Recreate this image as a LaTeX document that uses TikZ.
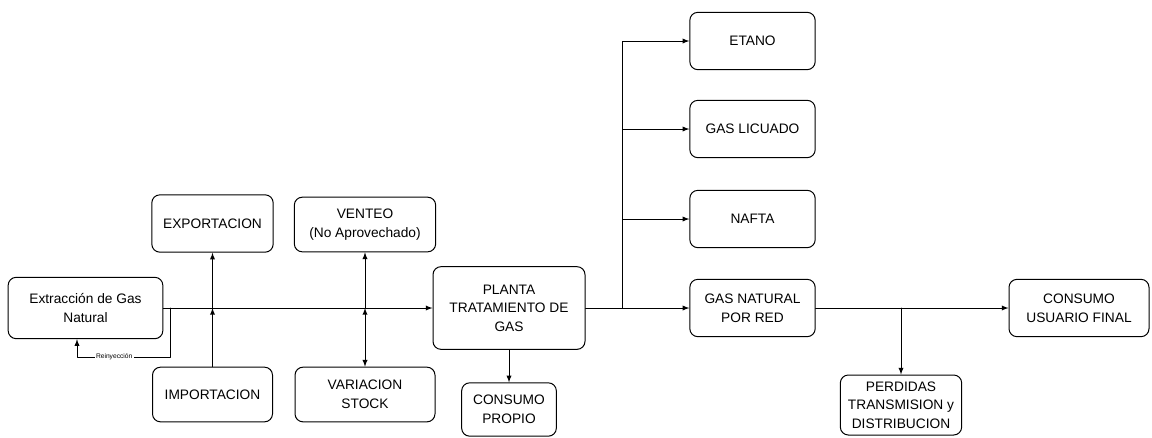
\documentclass[tikz,border=0pt]{standalone}
\usepackage{fontspec}
\setmainfont{Liberation Sans}
\usepackage{tikz}
\usetikzlibrary{arrows}

\begin{document}
\begin{tikzpicture}
    [line cap=round,line join=round,x=0.75pt,y=-0.75pt,line width=0.75pt,
     caja/.style={draw,rounded corners=6pt,align=center,inner sep=0pt,
                  font=\fontsize{10.3}{14}\selectfont},
     flecha/.style={-latex}]
\useasboundingbox (0,0) rectangle (1152,437);
%main layer
%boxes of the balance
\node[caja,minimum width=116pt,minimum height=46pt] (ext) at (85.5,308) {Extracción de Gas\\Natural};
\node[caja,minimum width=91pt,minimum height=43pt] (expo) at (212.5,223.5) {EXPORTACION};
\node[caja,minimum width=90pt,minimum height=41pt] (impo) at (212.5,394.5) {IMPORTACION};
\node[caja,minimum width=106pt,minimum height=41pt] (vent) at (365,224.5) {VENTEO\\(No Aprovechado)};
\node[caja,minimum width=105pt,minimum height=41pt] (vari) at (365,394.5) {VARIACION\\STOCK};
\node[caja,minimum width=114pt,minimum height=62pt] (plant) at (509,308) {PLANTA\\TRATAMIENTO DE\\GAS};
\node[caja,minimum width=71pt,minimum height=40pt] (propio) at (509,409.5) {CONSUMO\\PROPIO};
\node[caja,minimum width=94pt,minimum height=43pt] (etano) at (752.5,41) {ETANO};
\node[caja,minimum width=94pt,minimum height=43pt] (licu) at (752.5,129) {GAS LICUADO};
\node[caja,minimum width=94pt,minimum height=43pt] (nafta) at (752.5,219) {NAFTA};
\node[caja,minimum width=94pt,minimum height=43pt] (gnr) at (752.5,308) {GAS NATURAL\\POR RED};
\node[caja,minimum width=91pt,minimum height=45pt] (perd) at (901,405) {PERDIDAS\\TRANSMISION y\\DISTRIBUCION};
\node[caja,minimum width=105pt,minimum height=43pt] (usu) at (1079,308) {CONSUMO\\USUARIO FINAL};

%main line and its branches
\coordinate (r0) at (170,308);
\coordinate (r1) at (77,357);
\coordinate (br) at (622,308);
\coordinate (d1) at (901,308);
\draw[flecha] (ext) -- (plant);
\draw[flecha] (expo.south |- ext.east) -- (expo);
\draw[flecha] (impo) -- (impo.north |- ext.east);
\draw[flecha] (vent.south |- ext.east) -- (vent);
\draw[latex-latex] (vari) -- (vari.north |- ext.east);
\draw[flecha] (r0) |- node[pos=0.8,fill=white,inner sep=1pt,font=\fontsize{5}{6}\selectfont] {Reinyección} (r1) -- (r1 |- ext.south);

\draw[flecha] (plant) -- (propio);
\draw[flecha] (plant) -- (gnr);
\foreach \n in {etano,licu,nafta}
    \draw[flecha] (br) |- (\n);

\draw[flecha] (gnr) -- (usu);
\draw[flecha] (d1) -- (perd);

 \end{tikzpicture}
\end{document}
